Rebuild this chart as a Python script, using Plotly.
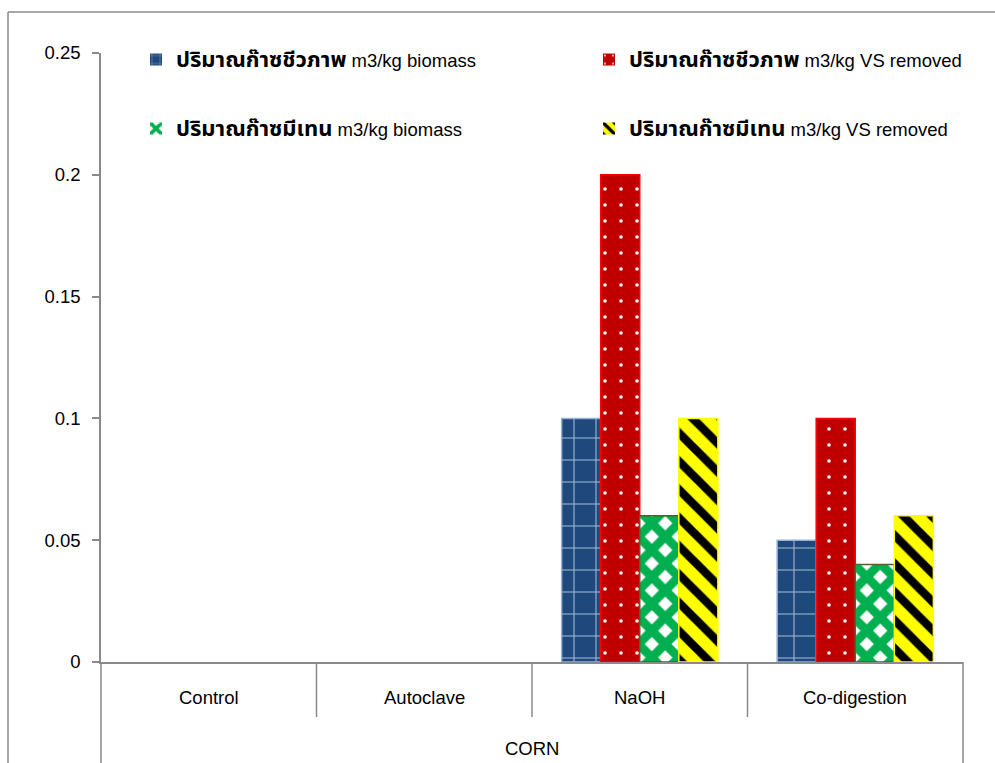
import plotly.graph_objects as go

# ---- data ----
group_label = "CORN"
categories = ["Control", "Autoclave", "NaOH", "Co-digestion"]
biogas_biomass = [0, 0, 0.1, 0.05]
biogas_vs = [0, 0, 0.2, 0.1]
methane_biomass = [0, 0, 0.06, 0.04]
methane_vs = [0, 0, 0.1, 0.06]
series_thai = ["ปริมาณก๊าซชีวภาพ", "ปริมาณก๊าซชีวภาพ", "ปริมาณก๊าซมีเทน", "ปริมาณก๊าซมีเทน"]
series_units = ["m3/kg biomass", "m3/kg VS removed", "m3/kg biomass", "m3/kg VS removed"]
y_tickvals = [0, 0.05, 0.1, 0.15, 0.2, 0.25]
y_ticktext = ["0", "0.05", "0.1", "0.15", "0.2", "0.25"]

# ---- layout geometry (pixels) ----
W, H = 995, 763
L, R, T, B = 101, 963, 53, 662
PW, PH = R - L, B - T
def fx(px):
    return (px - L) / PW
def fy(py):
    return (B - py) / PH

FONT = "Liberation Sans, Arial, Noto Sans Thai, Tahoma, sans-serif"
FS = 18.5
GRAY = "#8a8a8a"

styles = [
    dict(color="#1F497D", lc="#95B3D7",
         pattern=dict(shape="+", fgcolor="#a9bcd8", fgopacity=1, size=22, solidity=0.09)),
    dict(color="#C00000", lc="#FF0000",
         pattern=dict(shape=".", fgcolor="#ffffff", fgopacity=1, size=16, solidity=0.04)),
    dict(color="#00B050", lc="#4F6228",
         pattern=dict(shape="x", fgcolor="#00B050", bgcolor="#ffffff", fgopacity=1,
                      size=19, solidity=0.72)),
    dict(color="#FFFF00", lc="#FFFF00",
         pattern=dict(shape="\\", fgcolor="#000000", bgcolor="#FFFF00", fgopacity=1,
                      size=20, solidity=0.42)),
]
series = [biogas_biomass, biogas_vs, methane_biomass, methane_vs]
legend_ids = ["legend", "legend2", "legend3", "legend4"]
legend_pos = [(136, 60), (589, 60), (136, 129), (589, 129)]

fig = go.Figure()
for thai, unit, vals, st, lg in zip(series_thai, series_units, series, styles, legend_ids):
    widths = [0 if v == 0 else 1.5 for v in vals]
    fig.add_trace(go.Bar(
        x=categories, y=vals,
        name=f'<span style="font-size:22px"><b>{thai}</b></span> {unit}', legend=lg,
        marker=dict(color=st["color"], line=dict(color=st["lc"], width=widths),
                    pattern=st["pattern"]),
    ))

shapes = []
# outer frame (left and top)
shapes.append(dict(type="line", xref="paper", yref="paper", x0=fx(8), x1=fx(8), y0=fy(775), y1=fy(12),
                   line=dict(color=GRAY, width=1.5)))
shapes.append(dict(type="line", xref="paper", yref="paper", x0=fx(8), x1=fx(1000), y0=fy(12), y1=fy(12),
                   line=dict(color=GRAY, width=1.5)))
# category dividers
n = len(categories)
for i in range(n + 1):
    xp = i / n
    bottom = fy(775) if i in (0, n) else fy(717)
    shapes.append(dict(type="line", xref="paper", yref="paper", x0=xp, x1=xp, y0=0, y1=bottom,
                       line=dict(color=GRAY, width=1.5)))

annotations = []
for i, c in enumerate(categories):
    annotations.append(dict(x=(i + 0.5) / n, y=fy(697), xref="paper", yref="paper", text=c,
                            showarrow=False, font=dict(family=FONT, size=FS, color="#000000"),
                            xanchor="center", yanchor="middle"))
annotations.append(dict(x=0.5, y=fy(748), xref="paper", yref="paper", text=group_label,
                        showarrow=False, font=dict(family=FONT, size=FS, color="#000000"),
                        xanchor="center", yanchor="middle"))

layout_legends = {}
for lg, (px, py) in zip(legend_ids, legend_pos):
    layout_legends[lg] = dict(x=fx(px), y=fy(py), xanchor="left", yanchor="middle",
                              orientation="h",
                              font=dict(family=FONT, size=FS, color="#000000"),
                              bgcolor="rgba(0,0,0,0)", itemclick=False, itemdoubleclick=False)

fig.update_layout(
    width=W, height=H,
    margin=dict(l=L, r=W - R, t=T, b=H - B),
    paper_bgcolor="white", plot_bgcolor="white",
    font=dict(family=FONT, size=FS, color="#000000"),
    barmode="group", bargap=0.275, bargroupgap=0,
    showlegend=True,
    xaxis=dict(type="category", range=[-0.5, n - 0.5], showticklabels=False, ticks="",
               showline=True, linecolor=GRAY, linewidth=1.5, showgrid=False, zeroline=False,
               fixedrange=True),
    yaxis=dict(range=[0, 0.25], tickvals=y_tickvals, ticktext=y_ticktext, ticks="outside",
               ticklen=7, tickcolor=GRAY, tickwidth=1.5, showline=True, linecolor=GRAY,
               linewidth=1.5, showgrid=False, zeroline=False, ticklabelstandoff=8,
               tickfont=dict(family=FONT, size=FS, color="#000000"), fixedrange=True),
    shapes=shapes, annotations=annotations,
    **layout_legends,
)

fig.write_html("out.html", config={"displayModeBar": False})
